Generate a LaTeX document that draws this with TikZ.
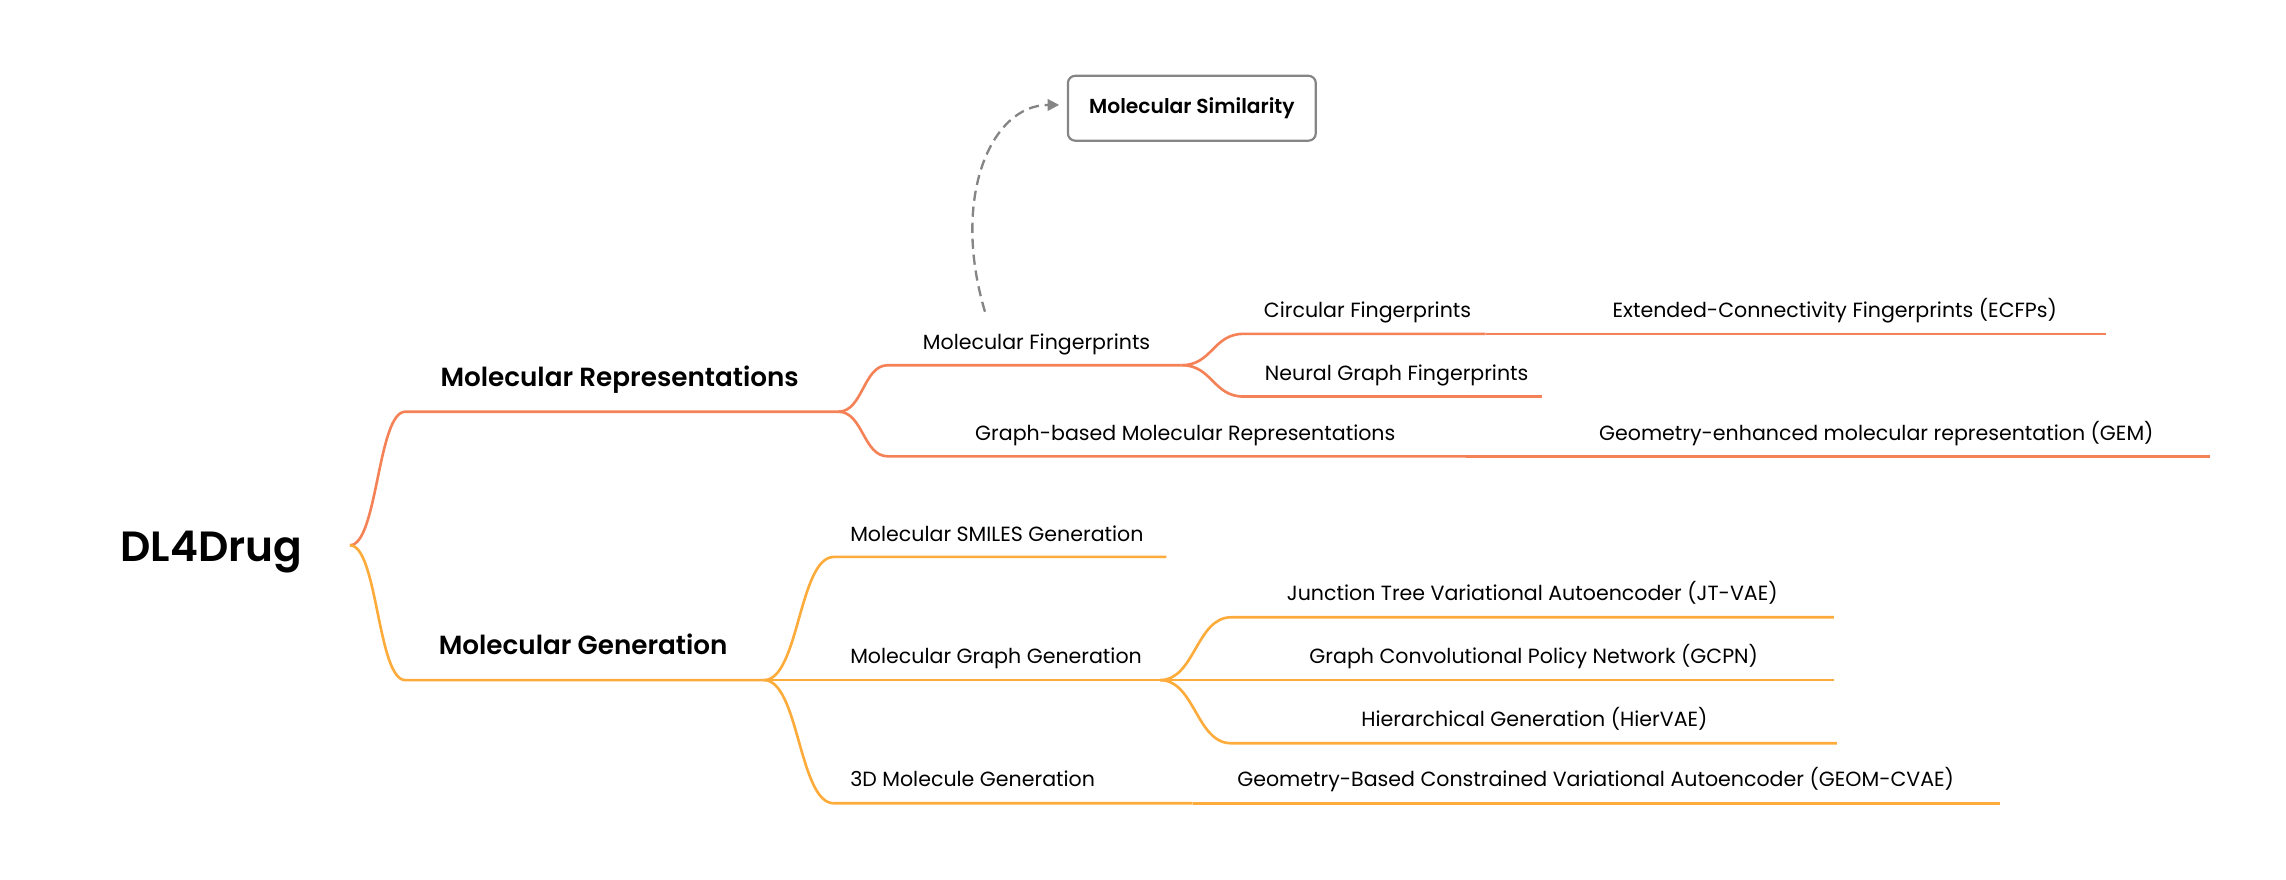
\documentclass[tikz,border=0pt]{standalone}
\usepackage{fontspec}
\setmainfont{Poppins}[BoldFont={Poppins SemiBold}]
\usetikzlibrary{arrows.meta}
\definecolor{repc}{HTML}{F58257}
\definecolor{genc}{HTML}{FDAB3B}
\definecolor{simc}{HTML}{858585}
\begin{document}
\begin{tikzpicture}[x=1pt,y=-1pt,
  rep/.style={draw=repc,line width=1.8pt},
  gen/.style={draw=genc,line width=1.8pt},
  lbl/.style={inner sep=0pt,text=black,font=\fontsize{14.1}{17}\selectfont},
  lblm/.style={inner sep=0pt,text=black,font=\fontsize{18}{21}\selectfont\bfseries},
  rootlbl/.style={inner sep=0pt,text=black,font=\fontsize{29}{34}\selectfont\bfseries},
  simbox/.style={draw=simc,line width=1.5pt,rounded corners=5pt,minimum width=170pt,minimum height=44.5pt,inner sep=0pt,text=black,font=\fontsize{13.9}{17}\selectfont\bfseries},
  dasharrow/.style={draw=simc,line width=1.6pt,dash pattern=on 7pt off 4pt,-{Triangle[length=8pt,width=8pt]}}
]
\useasboundingbox (0,0) rectangle (1568,603.6);

% root
\node[rootlbl,anchor=base] (root) at (145,385) {DL4Drug};
\coordinate (root-e) at (240,374);

% line coordinates
\coordinate (MR-s) at (278,282.4);  \coordinate (MR-e) at (575,282.4);
\coordinate (MG-s) at (278,466.5);  \coordinate (MG-e) at (524,466.5);
\coordinate (MF-s) at (609,250.5);  \coordinate (MF-e) at (810.5,250.5);
\coordinate (GB-s) at (609,313);    \coordinate (GB-e) at (1005.5,313);
\coordinate (CF-s) at (853,229);    \coordinate (CF-e) at (1019,229);
\coordinate (NG-s) at (853,272);    \coordinate (NG-e) at (1057.5,272);
\coordinate (EC-s) at (1072,229);   \coordinate (EC-e) at (1444.5,229);
\coordinate (GE-s) at (1057.5,313); \coordinate (GE-e) at (1515.6,313);
\coordinate (SM-s) at (572,382);    \coordinate (SM-e) at (800,382);
\coordinate (GG-s) at (572,466.5);  \coordinate (GG-e) at (795.6,466.5);
\coordinate (D3-s) at (572,551);    \coordinate (D3-e) at (818,551);
\coordinate (GC-s) at (818,551);    \coordinate (GC-e) at (1372,551);
\coordinate (JT-s) at (844.5,423.4);\coordinate (JT-e) at (1257.8,423.4);
\coordinate (CP-s) at (844.5,466.5);\coordinate (CP-e) at (1257.8,466.5);
\coordinate (HV-s) at (844.5,509.8);\coordinate (HV-e) at (1260,509.8);

% labels
\node[lblm,anchor=base] (MR) at (425,265) {Molecular Representations};
\node[lblm,anchor=base] (MG) at (400,449) {Molecular Generation};
\node[lbl,anchor=base] (MF) at (711,239.6) {Molecular Fingerprints};
\node[lbl,anchor=base] (GB) at (813,302) {Graph-based Molecular Representations};
\node[lbl,anchor=base] (CF) at (938,218) {Circular Fingerprints};
\node[lbl,anchor=base] (NG) at (958,261) {Neural Graph Fingerprints};
\node[lbl,anchor=base] (EC) at (1258.5,218) {Extended-Connectivity Fingerprints (ECFPs)};
\node[lbl,anchor=base] (GE) at (1287,302) {Geometry-enhanced molecular representation (GEM)};
\node[lbl,anchor=base west] (SM) at (583,371.5) {Molecular SMILES Generation};
\node[lbl,anchor=base west] (GG) at (583,455) {Molecular Graph Generation};
\node[lbl,anchor=base west] (D3) at (583,539.6) {3D Molecule Generation};
\node[lbl,anchor=base] (GC) at (1094.5,539.6) {Geometry-Based Constrained Variational Autoencoder (GEOM-CVAE)};
\node[lbl,anchor=base] (JT) at (1051,412) {Junction Tree Variational Autoencoder (JT-VAE)};
\node[lbl,anchor=base] (CP) at (1052,455) {Graph Convolutional Policy Network (GCPN)};
\node[lbl,anchor=base] (HV) at (1052.5,498) {Hierarchical Generation (HierVAE)};

\node[simbox] (sim) at (817.5,74.25) {Molecular Similarity};
\coordinate (fpdash) at (675.6,213.8);
\coordinate (simin) at (726.5,72);

% representation branch
\draw[rep] (root-e) .. controls +(19,0) and +(-19,0) .. (MR-s) -- (MR-e);
\draw[rep] (MR-e) .. controls +(17,0) and +(-17,0) .. (MF-s) -- (MF-e);
\draw[rep] (MR-e) .. controls +(17,0) and +(-17,0) .. (GB-s) -- (GB-e);
\draw[rep] (MF-e) .. controls +(21,0) and +(-21,0) .. (CF-s) -- (CF-e);
\draw[rep] (MF-e) .. controls +(21,0) and +(-21,0) .. (NG-s) -- (NG-e);
\draw[rep] (CF-e) -- (EC-s) -- (EC-e);
\draw[rep] (GB-e) -- (GE-s) -- (GE-e);

% generation branch
\draw[gen] (root-e) .. controls +(19,0) and +(-19,0) .. (MG-s) -- (MG-e);
\draw[gen] (MG-e) .. controls +(24,0) and +(-24,0) .. (SM-s) -- (SM-e);
\draw[gen] (MG-e) -- (GG-s) -- (GG-e);
\draw[gen] (MG-e) .. controls +(24,0) and +(-24,0) .. (D3-s) -- (D3-e);
\draw[gen] (D3-e) -- (GC-s) -- (GC-e);
\draw[gen] (GG-e) .. controls +(24,0) and +(-24,0) .. (JT-s) -- (JT-e);
\draw[gen] (GG-e) -- (CP-s) -- (CP-e);
\draw[gen] (GG-e) .. controls +(24,0) and +(-24,0) .. (HV-s) -- (HV-e);

% dashed link
\draw[dasharrow] (fpdash) .. controls (652,135) and (680,72) .. (simin);
\end{tikzpicture}
\end{document}
